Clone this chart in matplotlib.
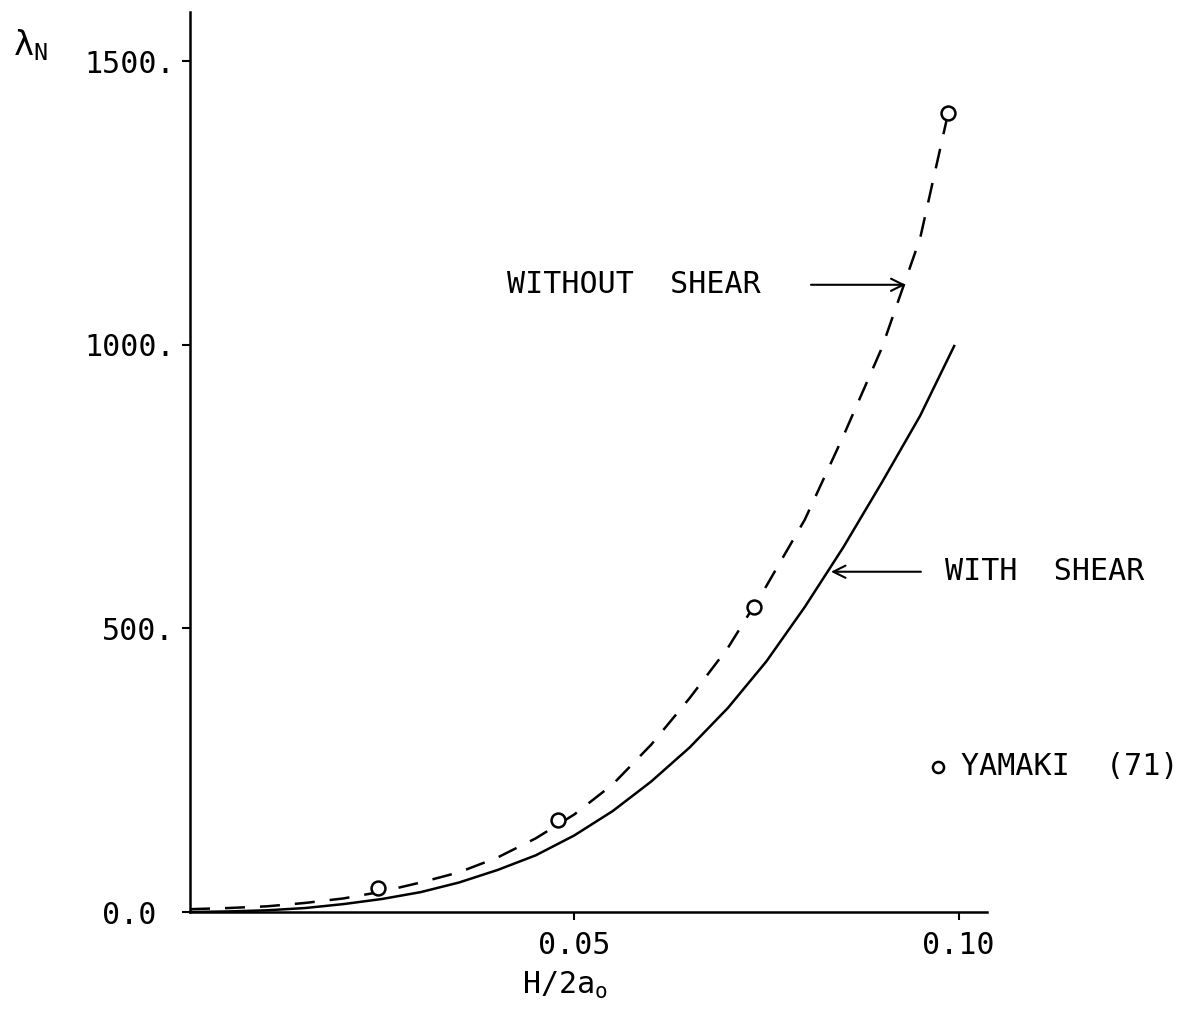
import matplotlib
matplotlib.use("Agg")
import matplotlib.pyplot as plt

plt.rcParams['font.family'] = ['DejaVu Sans Mono']
plt.rcParams['mathtext.fontset'] = 'custom'
plt.rcParams['mathtext.rm'] = 'DejaVu Sans Mono'

# curve with shear (solid)
x_shear = [0.0, 0.005, 0.01, 0.015, 0.02, 0.025, 0.03, 0.035, 0.04, 0.045, 0.05,
           0.055, 0.06, 0.065, 0.07, 0.075, 0.08, 0.085, 0.09, 0.095, 0.0995]
y_shear = [0, 1, 3, 7, 14, 23, 35, 52, 74, 100, 135,
           178, 230, 290, 360, 442, 538, 643, 757, 875, 1000]

# curve without shear (dashed)
x_noshear = [0.0, 0.005, 0.01, 0.015, 0.02, 0.025, 0.03, 0.035, 0.04, 0.045, 0.05,
             0.055, 0.06, 0.065, 0.07, 0.075, 0.08, 0.085, 0.09, 0.095, 0.0985]
y_noshear = [5, 7, 10, 16, 24, 36, 52, 70, 96, 130, 172,
             225, 295, 377, 466, 575, 692, 839, 994, 1188, 1400]

# Yamaki (71) points
x_yamaki = [0.0245, 0.0479, 0.0734, 0.0986]
y_yamaki = [42, 162, 538, 1409]

xticks = [0.05, 0.10]
xtick_labels = ['0.05', '0.10']
yticks = [0, 500, 1000, 1500]
ytick_labels = ['0.0 ', '500.', '1000.', '1500.']

fig = plt.figure(figsize=(11.91, 10.35), dpi=100)
ax = fig.add_axes([190 / 1191, 1 - 912 / 1035, (987 - 190) / 1191, (912 - 12) / 1035])

ax.plot(x_shear, y_shear, color='black', lw=1.8, solid_capstyle='butt', solid_joinstyle='round')
ax.plot(x_noshear, y_noshear, color='black', lw=1.8, dashes=(8, 6))
ax.plot(x_yamaki, y_yamaki, linestyle='none', marker='o', markersize=10,
        markerfacecolor='white', markeredgecolor='black', markeredgewidth=1.8)

ax.set_xlim(0, 0.1037)
ax.set_ylim(0, 1587)
for s in ['top', 'right']:
    ax.spines[s].set_visible(False)
for s in ['left', 'bottom']:
    ax.spines[s].set_linewidth(1.8)

ax.set_xticks(xticks)
ax.set_xticklabels(xtick_labels)
ax.set_yticks(yticks)
ax.set_yticklabels(ytick_labels)
ax.tick_params(axis='x', direction='out', length=6, width=1.5, pad=8, labelsize=21.6)
ax.tick_params(axis='y', direction='out', length=6, width=1.5, pad=5, labelsize=21.6)

# axis labels
fig.text(565 / 1191, 1 - 985 / 1035, r'H/2a$_\mathregular{o}$', ha='center', va='center', fontsize=21.6)
fig.text(13 / 1191, 1 - 45 / 1035, r'$\mathregular{\lambda}_\mathregular{N}$', ha='left', va='center', fontsize=24)

# annotations
ax.annotate('', xy=(0.0931, 1106), xytext=(0.0808, 1106),
            arrowprops=dict(arrowstyle='->', color='black', lw=1.5, mutation_scale=22,
                            shrinkA=0, shrinkB=0))
ax.text(0.0412, 1106, 'WITHOUT  SHEAR', ha='left', va='center', fontsize=21.6)

ax.annotate('', xy=(0.0834, 600), xytext=(0.0951, 600),
            arrowprops=dict(arrowstyle='->', color='black', lw=1.5, mutation_scale=22,
                            shrinkA=0, shrinkB=0))
ax.text(0.0983, 600, 'WITH  SHEAR', ha='left', va='center', fontsize=21.6)

ax.plot([0.0973], [256], linestyle='none', marker='o', markersize=8,
        markerfacecolor='white', markeredgecolor='black', markeredgewidth=1.8, clip_on=False)
ax.text(0.1003, 256, 'YAMAKI  (71)', ha='left', va='center', fontsize=21.6)

fig.savefig('out.png', dpi=100)
